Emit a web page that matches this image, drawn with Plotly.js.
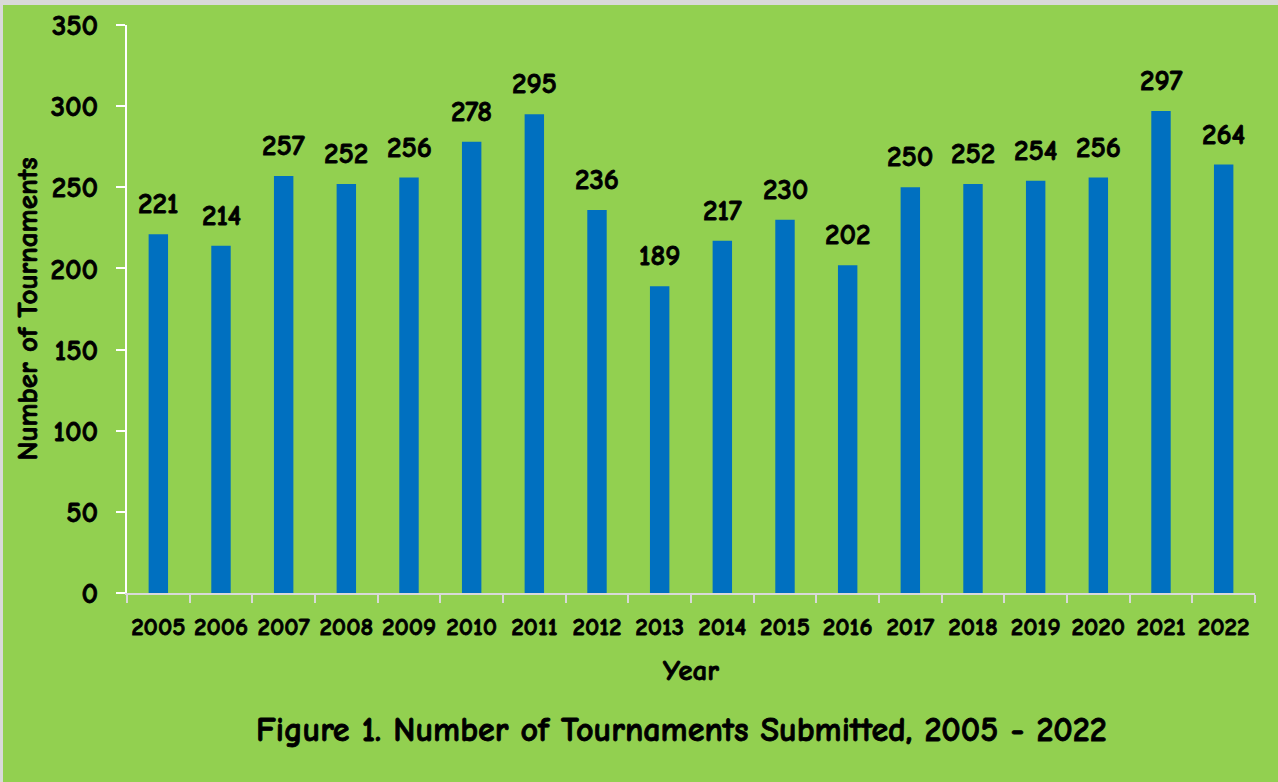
<!DOCTYPE html>
<html>
<head>
<meta charset="utf-8">
<script src="https://cdn.plot.ly/plotly-3.0.1.min.js"></script>
<style>
  html, body { margin: 0; padding: 0; background: #d9d9d9; width: 1278px; height: 782px; overflow: hidden; }
  #chart { position: absolute; left: 3px; top: 5px; width: 1275px; height: 777px; }
  #chart text { stroke: #000; stroke-width: 0.8px; }
</style>
</head>
<body>
<div id="chart"></div>
<script>
const years = ["2005","2006","2007","2008","2009","2010","2011","2012","2013","2014","2015","2016","2017","2018","2019","2020","2021","2022"];
const tournaments = [221,214,257,252,256,278,295,236,189,217,230,202,250,252,254,256,297,264];
const yTicks = [0,50,100,150,200,250,300,350];

const FONT = "Comic Sans MS, Comic Neue, DejaVu Sans, sans-serif";
const b = s => "<b>" + s + "</b>";

const trace = {
  type: "bar",
  x: years,
  y: tournaments,
  marker: { color: "#0070C0" },
  hoverinfo: "x+y"
};

const annotations = years.map((yr, i) => ({
  x: i, y: tournaments[i], xref: "x", yref: "y",
  text: b(String(tournaments[i])), showarrow: false,
  yanchor: "bottom", yshift: 12,
  font: { family: FONT, size: 29, color: "#000" }
}));

const layout = {
  width: 1275, height: 777,
  paper_bgcolor: "#92D050",
  plot_bgcolor: "#92D050",
  margin: { l: 124, r: 23, t: 20, b: 189 },
  bargap: 0.69,
  showlegend: false,
  font: { family: FONT, color: "#000" },
  title: {
    text: b("Figure 1. Number of Tournaments Submitted, 2005 - 2022"),
    x: 0.532, xanchor: "center", xref: "container",
    y: 1 - (724 / 777), yanchor: "middle", yref: "container",
    font: { family: FONT, size: 34, color: "#000" }
  },
  xaxis: {
    type: "category",
    range: [-0.5, years.length - 0.5],
    autorange: false,
    automargin: false,
    tickvals: years,
    ticktext: years.map(b),
    showline: true, linecolor: "#d9d9d9", linewidth: 2,
    ticks: "outside", tickson: "boundaries", ticklen: 8, tickwidth: 2, tickcolor: "#d9d9d9",
    tickangle: 0,
    ticklabelstandoff: 10,
    tickfont: { family: FONT, size: 25, color: "#000" },
    title: { text: b("Year"), standoff: 20, font: { family: FONT, size: 29, color: "#000" } },
    showgrid: false, zeroline: false
  },
  yaxis: {
    range: [0, 350],
    autorange: false,
    automargin: false,
    tickvals: yTicks,
    ticktext: yTicks.map(v => b(String(v))),
    showline: true, linecolor: "#ffffff", linewidth: 2,
    ticks: "outside", ticklen: 9, tickwidth: 2, tickcolor: "#ffffff",
    ticklabelstandoff: 12,
    tickfont: { family: FONT, size: 29, color: "#000" },
    title: { text: b("Number of Tournaments"), standoff: 4, font: { family: FONT, size: 29, color: "#000" } },
    showgrid: false, zeroline: false
  },
  annotations: annotations
};

Plotly.newPlot("chart", [trace], layout, { displayModeBar: false, staticPlot: true });
</script>
</body>
</html>
